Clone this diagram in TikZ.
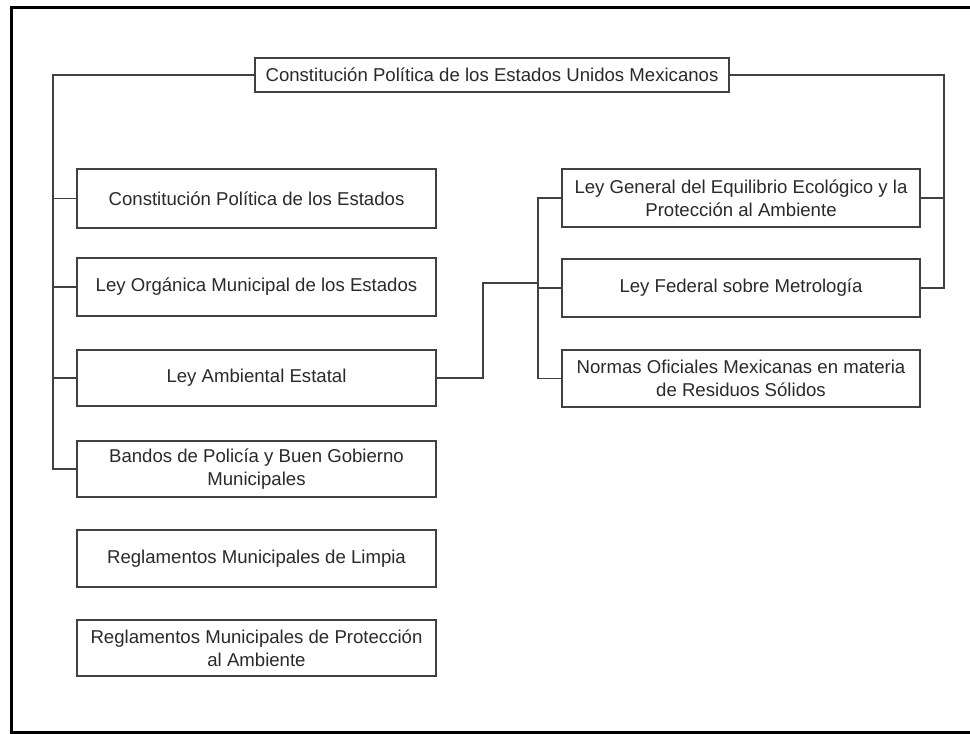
\documentclass[tikz,border=0pt]{standalone}
\usepackage{fontspec}
\setmainfont{Liberation Sans}
\definecolor{txt}{HTML}{2A2A2A}
\definecolor{edge}{HTML}{404040}
\begin{document}
\begin{tikzpicture}[x=1pt,y=-1pt,
  box/.style={draw=edge, line width=1.5pt, rectangle, inner sep=0pt, align=center,
    text=txt, font=\fontsize{18.6}{22.5}\selectfont, minimum width=359pt},
  conn/.style={draw=edge, line width=1.5pt}]
\useasboundingbox (0,0) rectangle (970,734);
\fill[white] (0,0) rectangle (970,734);
\draw[line width=3pt, black] (970,7) -- (11.5,7) -- (11.5,732.5) -- (970,732.5);
% nodes
\node[box, minimum width=474pt, minimum height=34pt] (top) at (492,75) {Constitución Política de los Estados Unidos Mexicanos};
\node[box, minimum height=59pt] (L1) at (256.5,198.5) {Constitución Política de los Estados};
\node[box, minimum height=58pt] (L2) at (256.5,287) {Ley Orgánica Municipal de los Estados};
\node[box, minimum height=56pt] (L3) at (256.5,378) {Ley Ambiental Estatal};
\node[box, minimum height=56pt] (L4) at (256.5,469) {Bandos de Policía y Buen Gobierno\\Municipales};
\node[box, minimum height=57pt] (L5) at (256.5,558.5) {Reglamentos Municipales de Limpia};
\node[box, minimum height=56pt] (L6) at (256.5,648) {Reglamentos Municipales de Protección\\al Ambiente};
\node[box, minimum width=358pt, minimum height=58pt] (R1) at (741,198) {Ley General del Equilibrio Ecológico y la\\Protección al Ambiente};
\node[box, minimum width=358pt, minimum height=58pt] (R2) at (741,288) {Ley Federal sobre Metrología};
\node[box, minimum width=358pt, minimum height=57pt] (R3) at (741,378.5) {Normas Oficiales Mexicanas en materia\\de Residuos Sólidos};
% coordinates
\coordinate (lt) at (53,75);
\coordinate (rt) at (944,75);
\coordinate (mt) at (538,283);
\coordinate (jx) at (483,283);
% connectors
\draw[conn] (top.west) -- (lt) |- (L4.west);
\draw[conn] (L1.west) -- (L1.west -| lt);
\draw[conn] (L2.west) -- (L2.west -| lt);
\draw[conn] (L3.west) -- (L3.west -| lt);
\draw[conn] (top.east) -- (rt) |- (R2.east);
\draw[conn] (R1.east) -- (R1.east -| rt);
\draw[conn] (R1.west) -- (R1.west -| mt) -- (R3.west -| mt) -- (R3.west);
\draw[conn] (R2.west) -- (R2.west -| mt);
\draw[conn] (L3.east) -| (jx) -- (mt);
\end{tikzpicture}
\end{document}
